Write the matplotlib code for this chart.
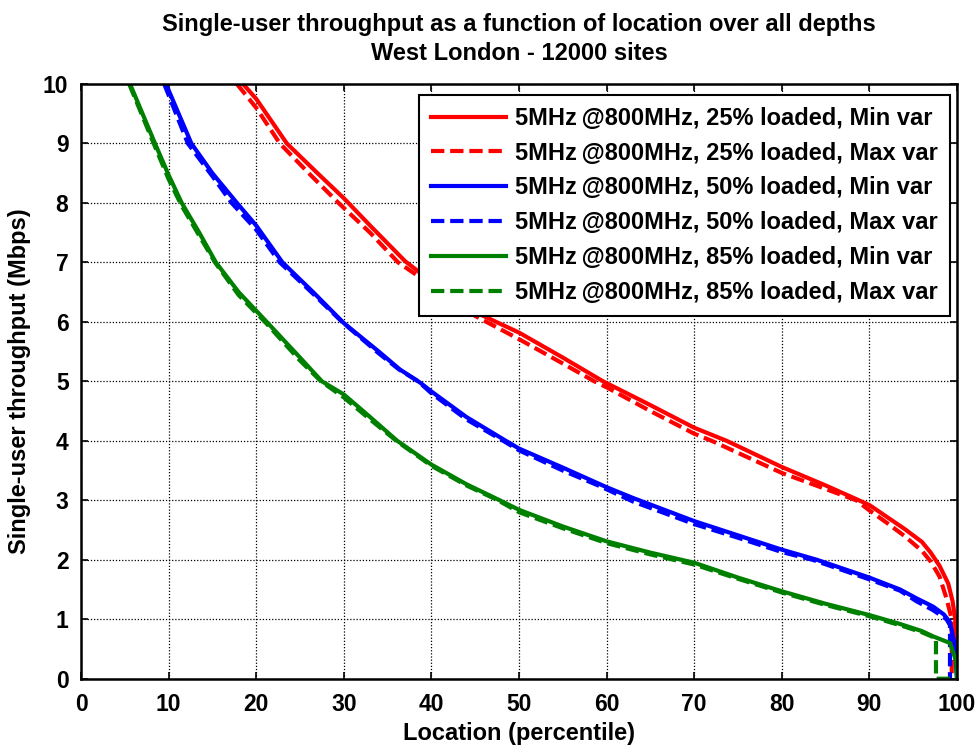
import matplotlib
matplotlib.use("Agg")
import matplotlib.pyplot as plt

# ---------------- data ----------------
r_min_x = [18.5, 20, 23.5, 27, 30, 33, 35, 37, 40, 42.5, 45.5, 50, 55, 59.6, 65, 70, 73.7, 80, 85, 88.5, 90, 92, 94, 96, 97, 98, 99, 99.5, 99.8, 100, 100]
r_min_y = [10, 9.75, 9, 8.5, 8.08, 7.62, 7.32, 7.02, 6.68, 6.42, 6.13, 5.82, 5.4, 5.0, 4.6, 4.22, 4.0, 3.56, 3.25, 3.02, 2.92, 2.72, 2.52, 2.3, 2.12, 1.9, 1.6, 1.3, 1.0, 0.5, 0]

r_max_x = [17.8, 20, 22.7, 26, 29.4, 33, 36.2, 40, 45, 50, 55, 58.6, 60, 65, 70, 72, 80, 85, 88.5, 90, 92, 94, 96, 97, 98, 98.8, 99.4, 99.4]
r_max_y = [10, 9.6, 9, 8.5, 8.0, 7.5, 7.0, 6.62, 6.1, 5.71, 5.3, 5.0, 4.9, 4.5, 4.12, 4.0, 3.46, 3.19, 3.0, 2.83, 2.62, 2.4, 2.15, 1.97, 1.72, 1.35, 1.0, 0]

b_min_x = [9.7, 12.6, 15, 17.8, 20, 23, 26.5, 30, 34, 36.4, 38.7, 40, 44, 48.5, 50, 55, 60, 63, 70, 75, 80, 84, 90, 93.5, 95.4, 97.3, 98.5, 99.2, 99.7, 100]
b_min_y = [10, 9, 8.5, 8, 7.62, 7.0, 6.5, 5.98, 5.5, 5.2, 4.98, 4.83, 4.4, 4.0, 3.87, 3.55, 3.22, 3.04, 2.65, 2.41, 2.17, 2.0, 1.7, 1.5, 1.35, 1.21, 1.08, 0.95, 0.6, 0]

b_max_x = [9.5, 12.2, 15, 17.2, 20, 22.7, 26.3, 29.8, 34, 36.3, 38.5, 40, 44, 48.2, 50, 55, 59.2, 63, 70, 75, 80, 83.5, 90, 93.5, 95.4, 97.3, 98.8, 99.2, 99.2]
b_max_y = [10, 9, 8.45, 8, 7.55, 7.0, 6.5, 6.0, 5.47, 5.2, 5.0, 4.8, 4.36, 4.0, 3.84, 3.5, 3.24, 2.98, 2.6, 2.37, 2.13, 2.0, 1.67, 1.48, 1.3, 1.15, 1.0, 0.9, 0]

g_min_x = [5.6, 8.45, 10, 11.5, 13.5, 15.4, 18, 21.2, 25, 27.5, 30, 33, 36.1, 40, 44, 47.8, 50, 55, 60, 65, 70, 75, 80, 85, 90, 93.5, 96, 97.3, 99.2, 99.9, 100]
g_min_y = [10, 9, 8.47, 8, 7.5, 7.0, 6.5, 6.0, 5.4, 5.0, 4.78, 4.4, 4.0, 3.6, 3.27, 3.0, 2.84, 2.56, 2.31, 2.12, 1.95, 1.7, 1.47, 1.26, 1.07, 0.92, 0.8, 0.71, 0.6, 0.3, 0]

g_max_x = [5.5, 8.3, 10, 11.5, 13.5, 15.3, 18, 21.0, 25, 27.4, 30, 33, 36, 40, 44, 47.6, 50, 55, 60, 65, 70, 75, 80, 85, 90, 93.5, 96, 97.6, 97.6, 100]
g_max_y = [10, 9, 8.4, 7.95, 7.45, 7.0, 6.45, 6.0, 5.35, 5.0, 4.73, 4.36, 4.0, 3.58, 3.25, 3.0, 2.8, 2.53, 2.28, 2.09, 1.92, 1.68, 1.45, 1.24, 1.05, 0.9, 0.78, 0.68, 0, 0]

labels = ["5MHz\u2009@800MHz, 25% loaded, Min var",
          "5MHz\u2009@800MHz, 25% loaded, Max var",
          "5MHz\u2009@800MHz, 50% loaded, Min var",
          "5MHz\u2009@800MHz, 50% loaded, Max var",
          "5MHz\u2009@800MHz, 85% loaded, Min var",
          "5MHz\u2009@800MHz, 85% loaded, Max var"]
colors = ["#ff0000", "#ff0000", "#0000ff", "#0000ff", "#008000", "#008000"]

xticks = list(range(0, 101, 10))
yticks = list(range(0, 11, 1))

title_text = "Single-user throughput as a function of location over all depths\nWest London - 12000 sites"
xlabel = "Location (percentile)"
ylabel = "Single-user throughput (Mbps)"

plt.rcParams['font.family'] = ['Liberation Sans', 'DejaVu Sans']

# ---------------- figure ----------------
W, H = 979, 747
fig = plt.figure(figsize=(W / 100, H / 100), dpi=100)
L, R, T, B = 81, 957, 84, 678.7
ax = fig.add_axes([L / W, 1 - B / H, (R - L) / W, (B - T) / H])

series = [(r_min_x, r_min_y, '-'), (r_max_x, r_max_y, '--'),
          (b_min_x, b_min_y, '-'), (b_max_x, b_max_y, '--'),
          (g_min_x, g_min_y, '-'), (g_max_x, g_max_y, '--')]
handles = []
for (xs, ys, ls), c, lab in zip(series, colors, labels):
    if ls == '--':
        h, = ax.plot(xs, ys, color=c, lw=3.0, dashes=(3.2, 1.4), label=lab,
                     solid_joinstyle='round', dash_capstyle='butt')
    else:
        h, = ax.plot(xs, ys, color=c, lw=3.0, label=lab, solid_joinstyle='round')
    handles.append(h)

ax.set_xlim(0, 100)
ax.set_ylim(0, 10)
ax.set_xticks(xticks)
ax.set_yticks(yticks)
ax.grid(True, color='black', linestyle=(0, (1, 1.5)), linewidth=0.9)
ax.tick_params(direction='in', length=5, width=1.2, top=True, right=True,
               labelsize=16.5)
ax.tick_params(axis='x', pad=10)
ax.tick_params(axis='y', pad=9)
for lab in ax.get_xticklabels() + ax.get_yticklabels():
    lab.set_fontweight('bold')
for s in ax.spines.values():
    s.set_linewidth(1.8)

ax.set_xlabel(xlabel, fontsize=17, fontweight='bold')
ax.set_ylabel(ylabel, fontsize=17, fontweight='bold')
ax.xaxis.set_label_coords(0.5, -0.072)
ax.yaxis.set_label_coords(-0.057, 0.5)

fig.text(519 / W, 1 - 60.5 / H, title_text, ha='center', va='baseline',
         fontsize=17, fontweight='bold', linespacing=1.36)

leg = ax.legend(handles=handles, loc='upper right',
                bbox_to_anchor=((950 - L) / (R - L), 1 - (95 - T) / (B - T)),
                borderaxespad=0.0, fontsize=17, frameon=True,
                fancybox=False, framealpha=1, edgecolor='black',
                handlelength=3.2, handletextpad=0.38, labelspacing=0.5,
                borderpad=0.5)
leg.get_frame().set_linewidth(1.5)
for t in leg.get_texts():
    t.set_fontweight('bold')

fig.savefig("out.png", dpi=100)
